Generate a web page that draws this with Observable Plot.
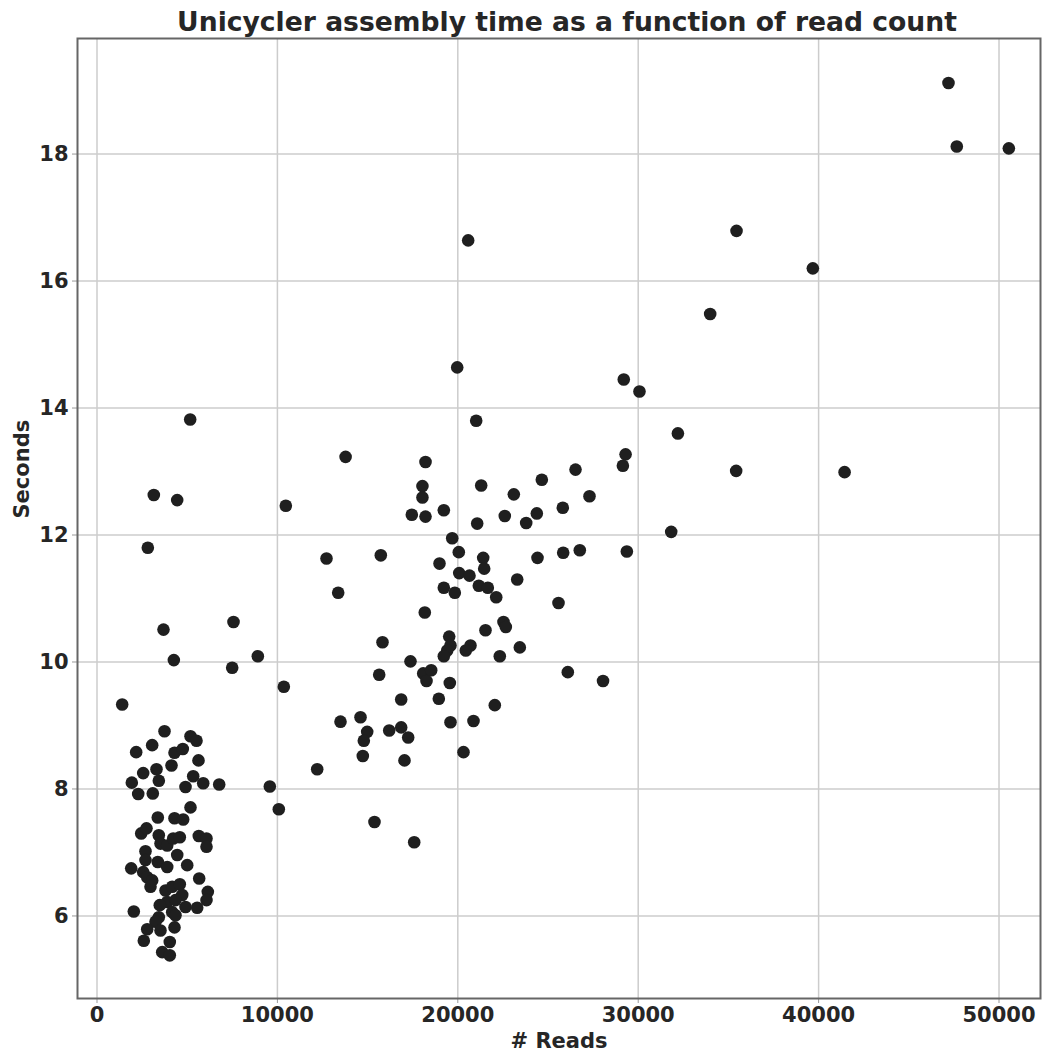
<!DOCTYPE html>
<html>
<head>
<meta charset="utf-8">
<script src="https://cdn.jsdelivr.net/npm/d3@7"></script>
<script src="https://cdn.jsdelivr.net/npm/@observablehq/plot@0.6"></script>
<style>
  html, body { margin: 0; padding: 0; background: #fff; }
  #chart { width: 1043px; height: 1052px; }
</style>
</head>
<body>
<div id="chart"></div>
<script>
const titleText = "Unicycler assembly time as a function of read count";
const xLabel = "# Reads";
const yLabel = "Seconds";
const xTicks = [0, 10000, 20000, 30000, 40000, 50000];
const yTicks = [6, 8, 10, 12, 14, 16, 18];

// read counts
const reads = [
  // low cluster
  3742, 5183, 5516, 2172, 3058, 4296, 4756, 5626, 4130, 2561, 3298, 3427, 1929, 5332, 5887, 6774, 4906, 2284, 3093, 5183, 3370, 4296, 4778,
  2450, 2744, 3426, 3520, 3891, 4224, 4590, 5643, 6070, 6070, 2688, 4446, 2688, 3370, 3891, 1896, 2561, 2783, 5000, 3060, 2966, 5665,
  3797, 4168, 4590, 4723, 6142, 6070, 3891, 4351, 4906, 5554, 3481, 2040, 4168, 4351, 3426, 3243, 3520, 2783, 4296, 2594, 4035, 3614, 4035,
  // low-count outliers
  5166, 3149, 4445, 10466, 2817, 3686, 7567, 4259, 7494, 8915, 10357, 1396,
  // middle cluster
  13780, 18210, 18040, 18040, 17450, 18210, 12722, 15732, 13370, 18170, 15826, 17378, 15643, 16862, 13498, 14607, 14977, 14790,
  16197, 16862, 17250, 14734, 17045, 12206, 9580, 10078, 15382, 17583,
  21020, 19225, 21297, 21075, 23105, 24656, 26525, 27300, 22605, 23791, 24380, 25820, 19690, 20055, 18986, 21408, 21463, 23293,
  24418, 25842, 26763, 20078, 20649, 21165, 21663, 19225, 19834, 22129, 25582, 22533, 22661, 21535, 19523, 19595, 19412, 19225,
  20704, 20443, 23437, 22328, 18082, 18525, 18265, 19557, 26098, 28050, 18947, 22051, 19595, 20870, 20316,
  // high
  47200, 47660, 50545, 35450, 39680, 33990, 29200, 30070, 32200, 29300, 29150, 35430, 41440, 31830, 29370, 20575, 19967
];

// assembly time in seconds
const seconds = [
  8.91, 8.83, 8.76, 8.58, 8.69, 8.57, 8.63, 8.45, 8.37, 8.25, 8.31, 8.13, 8.10, 8.20, 8.09, 8.07, 8.03, 7.92, 7.93, 7.71, 7.55, 7.54, 7.52,
  7.30, 7.38, 7.27, 7.14, 7.11, 7.22, 7.24, 7.26, 7.22, 7.09, 7.02, 6.96, 6.88, 6.85, 6.77, 6.75, 6.69, 6.61, 6.80, 6.56, 6.46, 6.59,
  6.40, 6.46, 6.50, 6.33, 6.38, 6.25, 6.22, 6.25, 6.14, 6.13, 6.17, 6.07, 6.06, 6.01, 5.98, 5.91, 5.77, 5.79, 5.82, 5.61, 5.59, 5.43, 5.38,
  13.82, 12.63, 12.55, 12.46, 11.80, 10.51, 10.63, 10.03, 9.91, 10.09, 9.61, 9.33,
  13.23, 13.15, 12.77, 12.59, 12.32, 12.29, 11.63, 11.68, 11.09, 10.78, 10.31, 10.01, 9.80, 9.41, 9.06, 9.13, 8.90, 8.76,
  8.92, 8.97, 8.81, 8.52, 8.45, 8.31, 8.04, 7.68, 7.48, 7.16,
  13.80, 12.39, 12.78, 12.18, 12.64, 12.87, 13.03, 12.61, 12.30, 12.19, 12.34, 12.43, 11.95, 11.73, 11.55, 11.64, 11.47, 11.30,
  11.64, 11.72, 11.76, 11.40, 11.36, 11.20, 11.17, 11.17, 11.09, 11.02, 10.93, 10.63, 10.55, 10.50, 10.40, 10.26, 10.18, 10.09,
  10.26, 10.18, 10.23, 10.09, 9.82, 9.87, 9.70, 9.67, 9.84, 9.70, 9.42, 9.32, 9.05, 9.07, 8.58,
  19.12, 18.12, 18.09, 16.79, 16.20, 15.48, 14.45, 14.26, 13.60, 13.27, 13.09, 13.01, 12.99, 12.05, 11.74, 16.64, 14.64
];

const data = reads.map((r, i) => ({reads: r, seconds: seconds[i]}));

const chart = Plot.plot({
  width: 1043,
  height: 1052,
  marginLeft: 77,
  marginRight: 3,
  marginTop: 38,
  marginBottom: 54,
  style: {fontFamily: "DejaVu Sans", fontSize: "21px", fontWeight: "bold", color: "#262626", background: "#fff"},
  x: {domain: [-1081, 52300], ticks: xTicks, tickFormat: d => String(d), label: null},
  y: {domain: [4.70, 19.82], ticks: yTicks, tickFormat: d => String(d), label: null},
  marks: [
    Plot.gridX(xTicks, {stroke: "#cccccc", strokeWidth: 1.5, strokeOpacity: 1}),
    Plot.gridY(yTicks, {stroke: "#cccccc", strokeWidth: 1.5, strokeOpacity: 1}),
    Plot.axisX(xTicks, {tickSize: 5, tickPadding: 4, stroke: "#999", fill: "#262626", label: null, tickFormat: d => String(d)}),
    Plot.axisY(yTicks, {tickSize: 5, tickPadding: 4, stroke: "#999", fill: "#262626", label: null, tickFormat: d => String(d)}),
    Plot.frame({stroke: "#666", strokeWidth: 2}),
    Plot.dot(data, {x: "reads", y: "seconds", r: 6.3, fill: "#1f1f1f", stroke: "none"}),
    Plot.text([xLabel], {frameAnchor: "bottom", dy: 43, text: d => d, fontSize: 21, fontWeight: "bold", fill: "#262626", lineAnchor: "middle"}),
    Plot.text([yLabel], {frameAnchor: "left", dx: -55, rotate: -90, text: d => d, fontSize: 21, fontWeight: "bold", fill: "#262626", lineAnchor: "middle"}),
    Plot.text([titleText], {frameAnchor: "top", dx: 8, dy: -16, text: d => d, fontSize: 26.6, fontWeight: "bold", fill: "#262626", lineAnchor: "middle"})
  ]
});
document.getElementById("chart").appendChild(chart);
</script>
</body>
</html>
